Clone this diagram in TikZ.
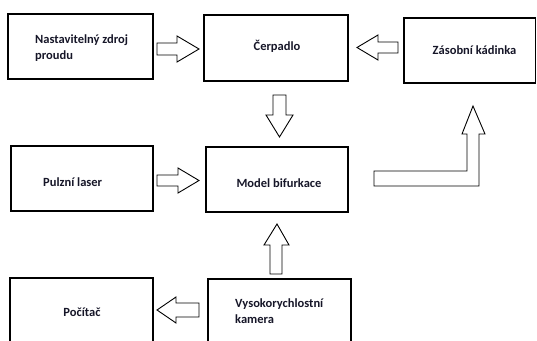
\documentclass[tikz,border=0pt]{standalone}
\usepackage{fontspec}
\setmainfont{Carlito}
\definecolor{txt}{RGB}{22,22,40}
\begin{document}
\begin{tikzpicture}[x=1pt,y=-1pt,
  box/.style={draw=black,line width=1.3pt},
  lbl/.style={inner sep=0pt,font=\fontsize{12.5}{15.5}\selectfont\bfseries,text=txt,align=left},
  blockarrow/.style={draw=black,line width=0.9pt,fill=white,line join=miter}]
\useasboundingbox (0,0) rectangle (537,340);
\clip (0,0) rectangle (537,340);
% boxes
\draw[box] (8,14) rectangle (153,79);
\draw[box] (204,15) rectangle (348,81);
\draw[box] (404,18) rectangle (535.5,83);
\draw[box] (11,146) rectangle (153,211);
\draw[box] (206,147) rectangle (348,212);
\draw[box] (10,278) rectangle (153,350);
\draw[box] (208,279) rectangle (351,350);
% labels
\node[lbl,anchor=west] (zdroj) at (35,48) {Nastavitelný zdroj\\proudu};
\node[lbl] (cerpadlo) at (277,46) {Čerpadlo};
\node[lbl] (kadinka) at (474.5,50.5) {Zásobní kádinka};
\node[lbl,anchor=west] (laser) at (43,182) {Pulzní laser};
\node[lbl] (model) at (279,183) {Model bifurkace};
\node[lbl] (pocitac) at (82,312) {Počítač};
\node[lbl,anchor=west] (kamera) at (235,311) {Vysokorychlostní\\kamera};
% block arrows
\draw[blockarrow] (157,43) -- (177,43) -- (177,36) -- (199,49) -- (177,62) -- (177,55) -- (157,55) -- cycle;
\draw[blockarrow] (398,42) -- (378,42) -- (378,35) -- (357,47.5) -- (378,60) -- (378,53) -- (398,53) -- cycle;
\draw[blockarrow] (273,95) -- (286,95) -- (286,115) -- (293,115) -- (279.5,137) -- (266,115) -- (273,115) -- cycle;
\draw[blockarrow] (157,175) -- (178,175) -- (178,168) -- (199,180.5) -- (178,193) -- (178,186) -- (157,186) -- cycle;
\draw[blockarrow] (374,171) -- (467,171) -- (467,134) -- (462,134) -- (473,106) -- (485,134) -- (479,134) -- (479,186) -- (374,186) -- cycle;
\draw[blockarrow] (270,274) -- (270,245) -- (264,245) -- (277,224) -- (289,245) -- (282,245) -- (282,274) -- cycle;
\draw[blockarrow] (199,303) -- (176,303) -- (176,297) -- (157,310) -- (176,323) -- (176,317) -- (199,317) -- cycle;
\end{tikzpicture}
\end{document}
